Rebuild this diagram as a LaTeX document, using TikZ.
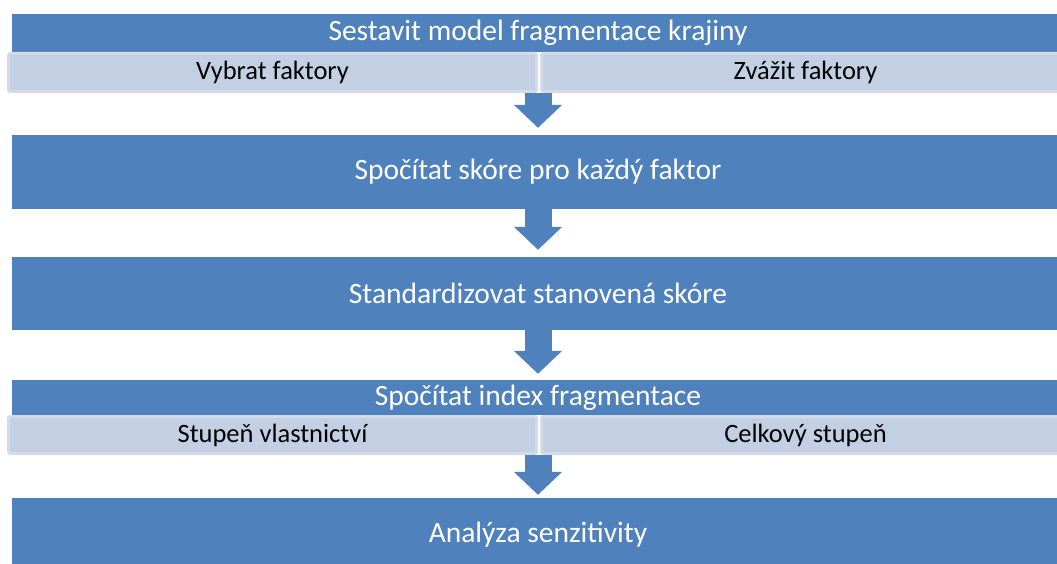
\documentclass[tikz,border=0pt]{standalone}
\usepackage{fontspec}
\setmainfont{Carlito}
\usetikzlibrary{arrows.meta,positioning}
\definecolor{stepblue}{HTML}{4F81BD}
\definecolor{subfill}{HTML}{C3CFE2}
\definecolor{subline}{HTML}{D3DBE9}
\tikzset{
  stepbar/.style={
    shape = rectangle,
    fill = stepblue,
    text = white,
    inner sep = 0pt,
    minimum width = 1052pt,
    font = \fontsize{29.5}{34}\selectfont
  },
  substep/.style={
    shape = rectangle,
    rounded corners = 2pt,
    fill = subfill,
    draw = subline,
    line width = 3pt,
    inner sep = 0pt,
    minimum width = 528pt,
    font = \fontsize{26.5}{30}\selectfont
  },
  flow/.style={
    draw = stepblue,
    line width = 27pt,
    -{Triangle[width=47pt,length=23pt]},
    shorten >= 7pt
  }
}

\begin{document}
\begin{tikzpicture}[x=1pt,y=-1pt]
    \def\cx{538}
    \def\lx{272.5}
    \def\rx{805.5}
    \useasboundingbox (0,0) rectangle (1057,564);
    \clip (0,0) rectangle (1057,564);
        % main steps
        \node[stepbar, minimum height=38pt] (model) at (\cx, 33) {Sestavit model fragmentace krajiny};
        \node[substep, minimum height=38pt] (vybrat) at (\lx, 72.5) {Vybrat faktory};
        \node[substep, minimum height=38pt] (zvazit) at (\rx, 72.5) {Zvážit faktory};
        \node[stepbar, minimum height=74pt] (skore) at (\cx, 172) {Spočítat skóre pro každý faktor};
        \node[stepbar, minimum height=73pt] (standard) at (\cx, 293.5) {Standardizovat stanovená skóre};
        \node[stepbar, minimum height=35pt] (index) at (\cx, 397.5) {Spočítat index fragmentace};
        \node[substep, minimum height=37pt] (vlastn) at (\lx, 435) {Stupeň vlastnictví};
        \node[substep, minimum height=37pt] (celk) at (\rx, 435) {Celkový stupeň};
        \node[stepbar, minimum height=74pt] (analyza) at (\cx, 535) {Analýza senzitivity};
        % arrows
        \draw[flow] (model.south |- vybrat.south) -- (skore.north);
        \draw[flow] (skore) ++(0,37) -- (standard.north);
        \draw[flow] (standard.south) -- ([yshift=-1pt]index.north);
        \draw[flow, shorten >=3pt] (index.south |- vlastn.south) -- (analyza.north);
\end{tikzpicture}
\end{document}
